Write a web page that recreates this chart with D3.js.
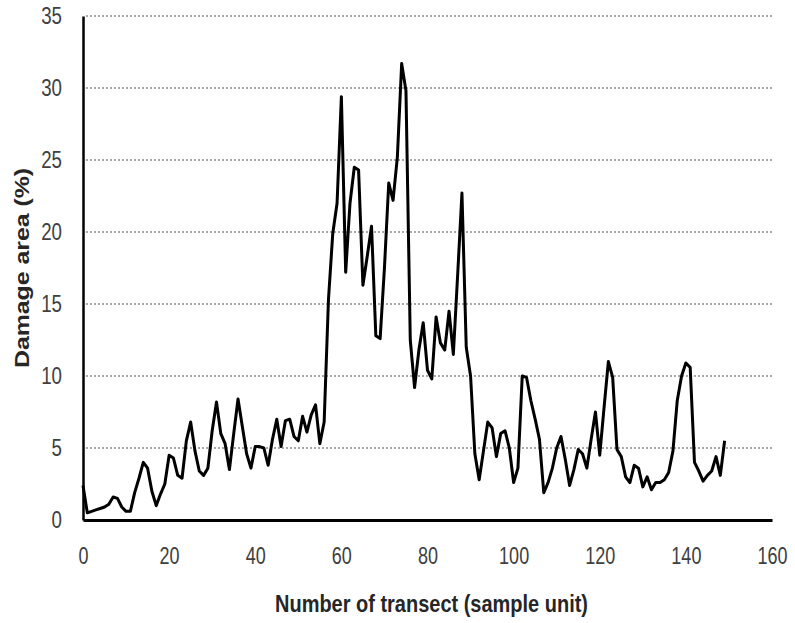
<!DOCTYPE html>
<html>
<head>
<meta charset="utf-8">
<script src="https://cdn.jsdelivr.net/npm/d3@7/dist/d3.min.js"></script>
<style>
  html, body { margin: 0; padding: 0; background: #fff; }
  svg { display: block; }
  .tick text { font-family: "Liberation Sans", Arial, sans-serif; font-size: 24px; fill: #404040; }
  .title { font-family: "Liberation Sans", Arial, sans-serif; font-weight: bold; font-size: 24px; fill: #262626; }
</style>
</head>
<body>
<svg id="chart" width="795" height="623"></svg>
<script>
// Damage area (%) recorded along each transect (sample unit), transects 0..149
const damage = [
  2.4, 0.5, 0.6, 0.7, 0.8, 0.9, 1.1, 1.6, 1.5, 0.9,
  0.6, 0.6, 1.9, 2.9, 4.0, 3.6, 2.0, 1.0, 1.8, 2.5,
  4.5, 4.3, 3.1, 2.9, 5.5, 6.8, 4.8, 3.4, 3.1, 3.6,
  6.2, 8.2, 6.0, 5.3, 3.5, 6.0, 8.4, 6.5, 4.6, 3.6,
  5.1, 5.1, 5.0, 3.8, 5.6, 7.0, 5.1, 6.9, 7.0, 5.8,
  5.5, 7.2, 6.1, 7.3, 8.0, 5.3, 6.8, 15.3, 19.9, 22.0,
  29.4, 17.2, 22.0, 24.5, 24.3, 16.3, 18.3, 20.4, 12.8, 12.6,
  17.5, 23.4, 22.2, 25.2, 31.7, 29.8, 12.5, 9.2, 11.8, 13.7,
  10.4, 9.8, 14.1, 12.3, 11.8, 14.5, 11.5, 17.0, 22.7, 12.0,
  10.0, 4.6, 2.8, 4.8, 6.8, 6.4, 4.4, 6.0, 6.2, 5.0,
  2.6, 3.6, 10.0, 9.9, 8.3, 7.0, 5.6, 1.9, 2.6, 3.6,
  5.0, 5.8, 4.2, 2.4, 3.5, 4.9, 4.6, 3.6, 5.6, 7.5,
  4.5, 7.8, 11.0, 9.9, 4.9, 4.4, 3.0, 2.6, 3.8, 3.6,
  2.3, 3.0, 2.1, 2.6, 2.6, 2.8, 3.3, 4.8, 8.3, 10.0,
  10.9, 10.6, 4.0, 3.4, 2.7, 3.1, 3.4, 4.4, 3.1, 5.5
];
const transects = damage.map((_, i) => i);

const xTicks = [0, 20, 40, 60, 80, 100, 120, 140, 160];
const yTicks = [0, 5, 10, 15, 20, 25, 30, 35];
const xTitle = "Number of transect (sample unit)";
const yTitle = "Damage area (%)";

const svg = d3.select("#chart");
const plotLeft = 83, plotRight = 772, plotTop = 16, plotBottom = 520;

const x = d3.scaleLinear().domain([0, 160]).range([plotLeft, plotRight]);
const y = d3.scaleLinear().domain([0, 35]).range([plotBottom, plotTop]);

// squeeze tick labels horizontally (narrow, tall numerals) while keeping their anchor point
function narrowLabels(sel, factor) {
  sel.selectAll(".tick text").each(function () {
    const t = d3.select(this);
    const x0 = +t.attr("x") || 0;
    t.attr("x", x0 / factor).attr("transform", `scale(${factor},1)`);
  });
}

// dotted horizontal gridlines
svg.append("g")
  .selectAll("line")
  .data(yTicks.filter(v => v > 0))
  .join("line")
  .attr("x1", plotLeft + 3).attr("x2", plotRight)
  .attr("y1", d => y(d)).attr("y2", d => y(d))
  .attr("stroke", "#a8a8a8")
  .attr("stroke-width", 2)
  .attr("stroke-dasharray", "2,2");

// y axis
const yAxis = svg.append("g")
  .attr("transform", `translate(${plotLeft},0)`)
  .call(d3.axisLeft(y).tickValues(yTicks).tickSize(0).tickPadding(21));
yAxis.select(".domain").attr("stroke", "#000").attr("stroke-width", 2.5);
narrowLabels(yAxis, 0.78);

// x axis
const xAxis = svg.append("g")
  .attr("transform", `translate(0,${plotBottom})`)
  .call(d3.axisBottom(x).tickValues(xTicks).tickSize(0).tickPadding(27));
xAxis.select(".domain").attr("stroke", "#000").attr("stroke-width", 3.2);
narrowLabels(xAxis, 0.75);

// data line
const line = d3.line()
  .x((d, i) => x(transects[i]))
  .y(d => y(d));

svg.append("path")
  .datum(damage)
  .attr("d", line)
  .attr("fill", "none")
  .attr("stroke", "#000")
  .attr("stroke-width", 3)
  .attr("stroke-linejoin", "round");

// axis titles
svg.append("text")
  .attr("class", "title")
  .attr("x", (275 + 588) / 2)
  .attr("y", 612)
  .attr("text-anchor", "middle")
  .attr("textLength", 313)
  .attr("lengthAdjust", "spacingAndGlyphs")
  .text(xTitle);

svg.append("text")
  .attr("class", "title")
  .attr("transform", "translate(29,268) rotate(-90)")
  .attr("text-anchor", "middle")
  .attr("textLength", 200)
  .attr("lengthAdjust", "spacingAndGlyphs")
  .style("font-size", "21px")
  .text(yTitle);
</script>
</body>
</html>
